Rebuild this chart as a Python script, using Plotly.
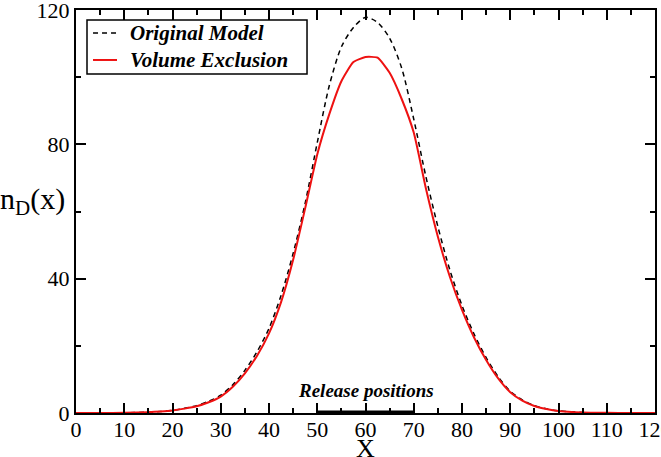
import plotly.graph_objects as go

x_vals = [0, 5, 10, 15, 17.5, 20, 22.5, 25, 27.5, 30, 32.5, 35, 37.5, 40, 42.5, 45, 47.5,
          50, 52.5, 55, 57.5, 60, 62.5, 65, 67.5, 70, 72.5, 75, 77.5, 80, 82.5, 85, 87.5,
          90, 92.5, 95, 97.5, 100, 105, 110, 115, 120]
original_model = [0, 0.01, 0.05, 0.25, 0.45, 0.8, 1.4, 2.2, 3.5, 5.3, 8.4, 12.7, 18.2, 25.2, 35.0,
                  47.5, 62.5, 80.5, 97.5, 109.0, 114.8, 117.8, 116.3, 111.6, 102.7, 87.5, 70.5,
                  55.5, 42.5, 32.0, 23.5, 16.5, 10.8, 6.5, 3.9, 2.2, 1.25, 0.65, 0.15, 0.04, 0.01, 0]
volume_exclusion = [0, 0.01, 0.05, 0.25, 0.45, 0.75, 1.3, 2.0, 3.2, 4.9, 7.8, 11.8, 17.0, 23.7, 33.0,
                    45.6, 61.0, 77.0, 89.0, 98.8, 104.5, 106.0, 105.8, 101.3, 93.5, 83.5, 67.0,
                    52.5, 40.5, 30.7, 22.5, 15.8, 10.3, 6.2, 3.7, 2.1, 1.2, 0.6, 0.15, 0.04, 0.01, 0]
release_x = [50, 70]
release_y = [0, 0]
legend_names = ["Original Model", "Volume Exclusion"]

SERIF = "Liberation Serif"
DASH = "5px,4px"

fig = go.Figure()
fig.add_trace(go.Scatter(x=x_vals, y=original_model, mode="lines", name=legend_names[0],
                         showlegend=False, line_shape="spline",
                         line=dict(color="black", width=1.5, dash=DASH, smoothing=0.8)))
fig.add_trace(go.Scatter(x=x_vals, y=volume_exclusion, mode="lines", name=legend_names[1],
                         showlegend=False, line_shape="spline",
                         line=dict(color="#ee1111", width=2, smoothing=0.5)))
fig.add_trace(go.Scatter(x=release_x, y=release_y, mode="lines", showlegend=False,
                         line=dict(color="black", width=5), cliponaxis=False))

# manual legend (box, samples, labels)
fig.add_shape(type="rect", xref="paper", yref="paper", x0=0.019, x1=0.399, y0=0.841, y1=0.975,
              line=dict(color="black", width=1.5), fillcolor="white", layer="above")
fig.add_shape(type="line", xref="paper", yref="paper", x0=0.0294, x1=0.0708, y0=0.943, y1=0.943,
              line=dict(color="black", width=1.5, dash=DASH), layer="above")
fig.add_shape(type="line", xref="paper", yref="paper", x0=0.0294, x1=0.0708, y0=0.876, y1=0.876,
              line=dict(color="#ee1111", width=2), layer="above")
for name, yp in zip(legend_names, [0.943, 0.876]):
    fig.add_annotation(x=0.0898, y=yp, xref="paper", yref="paper",
                       text="<b><i>" + name + "</i></b>", showarrow=False,
                       font=dict(family=SERIF, size=21, color="black"),
                       xanchor="left", yanchor="middle")

fig.add_annotation(x=60, y=6.8, xref="x", yref="y", text="<b><i>Release positions</i></b>",
                   showarrow=False, font=dict(family=SERIF, size=19, color="black"),
                   xanchor="center", yanchor="middle")
fig.add_annotation(x=-0.005, y=0.525, xref="paper", yref="paper", text="n<sub>D</sub>(x)",
                   showarrow=False, font=dict(family=SERIF, size=30, color="black"),
                   xanchor="right", yanchor="middle", xshift=-6)
fig.add_annotation(x=60, y=-0.089, xref="x", yref="paper", text="X",
                   showarrow=False, font=dict(family=SERIF, size=26, color="black"),
                   xanchor="center", yanchor="middle")

axis_common = dict(showgrid=False, zeroline=False, showline=True, linecolor="black", linewidth=2,
                   mirror="ticks", ticks="inside", ticklen=10, tickwidth=1.5, tickcolor="black",
                   tickfont=dict(family=SERIF, size=22, color="black"), automargin=False,
                   ticklabeloverflow="allow")

fig.update_xaxes(range=[0, 120], dtick=10, tick0=0, ticklabelstandoff=-4,
                 minor=dict(dtick=5, ticks="inside", ticklen=5, tickwidth=1.5, tickcolor="black"),
                 **axis_common)
fig.update_yaxes(range=[0, 120], dtick=40, tick0=0,
                 minor=dict(dtick=20, ticks="inside", ticklen=5, tickwidth=1.5, tickcolor="black"),
                 **axis_common)

fig.update_layout(width=661, height=457, margin=dict(l=76, r=6, t=10, b=44),
                  plot_bgcolor="white", paper_bgcolor="white", showlegend=False)

fig.write_html("out.html")
